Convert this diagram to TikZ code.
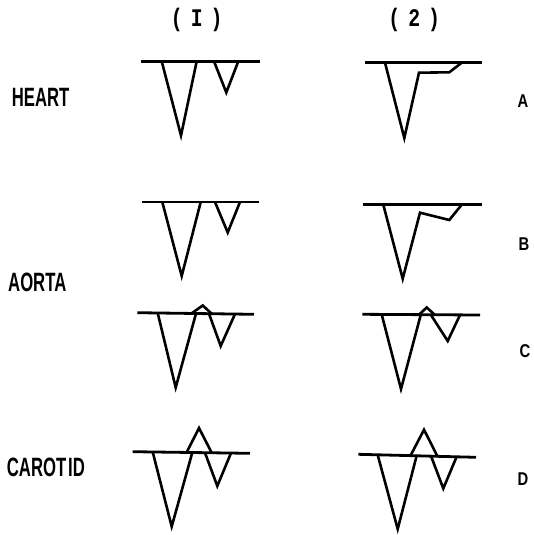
\documentclass[tikz,border=0pt]{standalone}
\usepackage{fontspec}
\setmainfont{Liberation Sans}
\newfontfamily\monof{Liberation Mono}
\begin{document}
\begin{tikzpicture}[x=1pt,y=-1pt,
  trace/.style={line width=2.6pt,line join=miter,line cap=butt},
  axis/.style={line width=2.8pt},
  rowlabel/.style={anchor=base west,inner sep=0pt,font=\bfseries\fontsize{26.5}{30}\selectfont},
  collabel/.style={anchor=base,inner sep=0pt,font=\monof\bfseries\fontsize{22}{24}\selectfont},
  letterlabel/.style={anchor=base,inner sep=0pt,font=\bfseries\fontsize{18.5}{20}\selectfont}]
\path[use as bounding box] (0,0) rectangle (534,535);
% headings
\node[collabel] (h1) at (196.7,26.7) {\scalebox{0.9}[1.15]{(\hspace{9pt}I\hspace{9pt})}};
\node[collabel] (h2) at (414.2,26.7) {\scalebox{0.9}[1.15]{(\hspace{9pt}2\hspace{9pt})}};
% row labels
\node[rowlabel] (heart) at (11.7,106.7) {\scalebox{0.63}[1]{HEART}};
\node[rowlabel] (aorta) at (8,291.7) {\scalebox{0.63}[1]{AORTA}};
\node[rowlabel] (carotid) at (6.7,476.7) {\scalebox{0.63}[1]{CAROT\hspace{3pt}ID}};
% letters
\node[letterlabel] (la) at (523,107) {\scalebox{0.8}[1]{A}};
\node[letterlabel] (lb) at (524,250) {\scalebox{0.8}[1]{B}};
\node[letterlabel] (lc) at (525,357) {\scalebox{0.8}[1]{C}};
\node[letterlabel] (ld) at (523,485) {\scalebox{0.8}[1]{D}};
% Panel A1
\draw[axis] (141,61.3) -- (260,61.3);
\draw[trace] (161.7,61.3) -- (181,135.5) -- (196.7,61.3);
\draw[trace] (214,61.3) -- (226.3,92.5) -- (238.3,61.3);
% Panel A2
\draw[axis] (365,62.7) -- (481.7,62.7);
\draw[trace] (385,62.7) -- (404.3,138) -- (419,72.7) -- (449.3,72.3) -- (461.7,62.7);
% Panel B1
\draw[axis] (141.7,202) -- (259,202);
\draw[trace] (162.3,202) -- (181.7,276) -- (200.7,202);
\draw[trace] (215,202) -- (227.7,232.5) -- (240,202);
% Panel B2
\draw[axis] (362.7,204.7) -- (481.7,204.7);
\draw[trace] (383.3,204.7) -- (402.7,278.7) -- (420,212.7) -- (449.3,220) -- (461.7,204.7);
% Panel C1
\draw[axis] (137.3,312.7) -- (254,314.3);
\draw[trace] (157.7,313) -- (175.7,387.5) -- (196,313.5);
\draw[trace] (191.7,313.3) -- (202.7,305.5) -- (211.7,313.7);
\draw[trace] (209,313.7) -- (220.7,346) -- (235,314);
% Panel C2
\draw[axis] (362.3,314.3) -- (480,315);
\draw[trace] (381.7,314.5) -- (401,389) -- (420.7,315);
\draw[trace] (419,314.7) -- (426.7,307.5) -- (435,315);
\draw[trace] (431,315) -- (447.7,341) -- (460,315);
% Panel D1
\draw[axis] (132.7,451.7) -- (250,453.3);
\draw[trace] (152.7,452) -- (171.7,526.5) -- (192.3,452.5);
\draw[trace] (186.7,452.3) -- (199,428) -- (211.7,452.8);
\draw[trace] (205,452.8) -- (217.3,486) -- (231,453);
% Panel D2
\draw[axis] (358.3,454.3) -- (476,457.3);
\draw[trace] (377.7,455) -- (397.7,529) -- (416.7,455.5);
\draw[trace] (410.7,455.3) -- (424,429.7) -- (437.3,456);
\draw[trace] (431,456) -- (443.3,488.5) -- (456.7,456.5);
\end{tikzpicture}
\end{document}
